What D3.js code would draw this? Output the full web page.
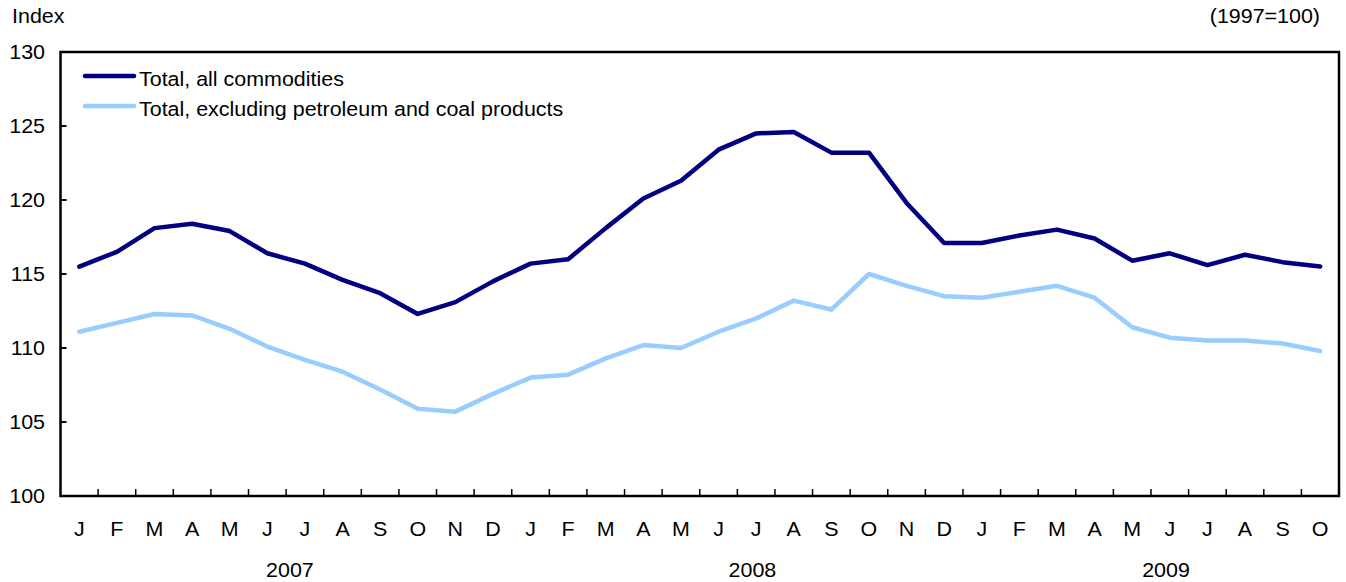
<!DOCTYPE html>
<html>
<head>
<meta charset="utf-8">
<script src="https://cdn.jsdelivr.net/npm/d3@7"></script>
<style>
  html, body { margin: 0; padding: 0; background: #fff; }
  svg { display: block; }
  text { font-family: "Liberation Sans", Arial, Helvetica, sans-serif; fill: #000; }
</style>
</head>
<body>
<svg id="chart" width="1346" height="582"></svg>
<script>
// ---- data ----
const months = ["J","F","M","A","M","J","J","A","S","O","N","D",
                "J","F","M","A","M","J","J","A","S","O","N","D",
                "J","F","M","A","M","J","J","A","S","O"];
const years = ["2007", "2008", "2009"];
const yearAnchorIndex = [6.1, 18.4, 29.4];
const yTicks = [100, 105, 110, 115, 120, 125, 130];
const seriesNames = ["Total, all commodities", "Total, excluding petroleum and coal products"];
const totalAll = [115.5, 116.5, 118.1, 118.4, 117.9, 116.4, 115.7, 114.6, 113.7, 112.3, 113.1, 114.5,
                  115.7, 116.0, 118.1, 120.1, 121.3, 123.4, 124.5, 124.6, 123.2, 123.2, 119.8, 117.1,
                  117.1, 117.6, 118.0, 117.4, 115.9, 116.4, 115.6, 116.3, 115.8, 115.5];
const totalExPetro = [111.1, 111.7, 112.3, 112.2, 111.3, 110.1, 109.2, 108.4, 107.2, 105.9, 105.7, 106.9,
                      108.0, 108.2, 109.3, 110.2, 110.0, 111.1, 112.0, 113.2, 112.6, 115.0, 114.2, 113.5,
                      113.4, 113.8, 114.2, 113.4, 111.4, 110.7, 110.5, 110.5, 110.3, 109.8];
const colors = ["#000080", "#99CCFF"];

// ---- layout ----
const svg = d3.select("#chart");
const pLeft = 60.5, pRight = 1339, pTop = 52, pBottom = 496;
const fs = 19.5, sx = 1.1;

const idx = d3.range(months.length);
const x = d3.scaleBand().domain(idx).range([pLeft, pRight]).paddingInner(0).paddingOuter(0);
const xc = i => x(i) + x.bandwidth() / 2;
const y = d3.scaleLinear().domain([100, 130]).range([pBottom, pTop]);

// helper: text placed with a slight horizontal stretch
function place(sel, fx, fy) {
  return sel.attr("transform", (d, i) => `translate(${fx(d, i)},${fy(d, i)}) scale(${sx},1)`)
            .style("font-size", fs + "px");
}

// frame
svg.append("rect")
  .attr("x", pLeft).attr("y", pTop)
  .attr("width", pRight - pLeft).attr("height", pBottom - pTop)
  .attr("fill", "none").attr("stroke", "#000").attr("stroke-width", 2.5);

// y ticks (inward)
svg.append("g").selectAll("line").data(yTicks.slice(1, -1)).join("line")
  .attr("x1", pLeft).attr("x2", pLeft + 6)
  .attr("y1", d => y(d)).attr("y2", d => y(d))
  .attr("stroke", "#000").attr("stroke-width", 2);
place(svg.append("g").selectAll("text").data(yTicks).join("text")
  .attr("dy", "0.36em")
  .attr("text-anchor", "end")
  .text(d => d), () => 45, d => y(d));

// x ticks (between months, inward)
svg.append("g").selectAll("line").data(idx.slice(1)).join("line")
  .attr("x1", d => x(d)).attr("x2", d => x(d))
  .attr("y1", pBottom).attr("y2", pBottom - 7)
  .attr("stroke", "#000").attr("stroke-width", 1.5);

// month labels
place(svg.append("g").selectAll("text").data(idx).join("text")
  .attr("text-anchor", "middle")
  .text(d => months[d]), d => xc(d), () => 536);

// year labels
place(svg.append("g").selectAll("text").data(years).join("text")
  .attr("text-anchor", "middle")
  .text(d => d), (d, i) => x(0) + yearAnchorIndex[i] * x.bandwidth(), () => 577);

// titles
place(svg.append("text").datum(0).text("Index"), () => 12, () => 23);
place(svg.append("text").datum(0).attr("text-anchor", "end").text("(1997=100)"), () => 1320, () => 23);

// lines
const line = d3.line().x((d, i) => xc(i)).y(d => y(d));
[totalAll, totalExPetro].forEach((s, k) => {
  svg.append("path").datum(s)
    .attr("d", line)
    .attr("fill", "none")
    .attr("stroke", colors[k])
    .attr("stroke-width", 4.5)
    .attr("stroke-linejoin", "round")
    .attr("stroke-linecap", "round");
});

// legend
const legY = [76, 106];
seriesNames.forEach((name, k) => {
  svg.append("line")
    .attr("x1", 85).attr("x2", 134)
    .attr("y1", legY[k]).attr("y2", legY[k])
    .attr("stroke", colors[k]).attr("stroke-width", 4.5)
    .attr("stroke-linecap", "round");
  place(svg.append("text").datum(0)
    .attr("dy", "0.36em")
    .text(name), () => 139, () => legY[k] + 3);
});
</script>
</body>
</html>
